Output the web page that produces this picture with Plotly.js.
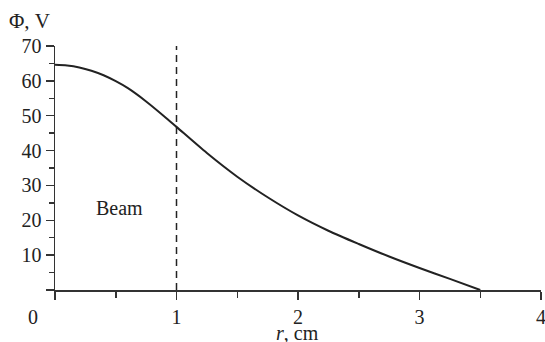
<!DOCTYPE html>
<html>
<head>
<meta charset="utf-8">
<script src="https://cdn.plot.ly/plotly-3.0.1.min.js"></script>
<style>html,body{margin:0;padding:0;background:#fff;}#chart{width:545px;height:342px;}</style>
</head>
<body>
<div id="chart"></div>
<script>
// Potential profile Φ(r)
const radius = [0, 0.1, 0.2, 0.3, 0.4, 0.5, 0.6, 0.75, 0.9, 1.0, 1.25, 1.5, 1.75, 2.0, 2.25, 2.5, 2.75, 3.0, 3.25, 3.5];
const potential = [64.6, 64.4, 63.85, 62.9, 61.6, 59.9, 57.9, 54.1, 49.8, 46.8, 39.3, 32.5, 26.6, 21.4, 17.0, 13.2, 9.6, 6.3, 3.2, 0];
const beamEdge = 1;          // beam radius, cm
const beamEdgeY = [0, 70];
const xTickVals = [0, 1, 2, 3, 4];
const xTickText = ['', '1', '2', '3', '4'];
const yTickVals = [0, 10, 20, 30, 40, 50, 60, 70];
const yTickText = ['', '10', '20', '30', '40', '50', '60', '70'];

const font = 'Liberation Serif, Times New Roman, serif';
const ink = '#222';

const traces = [
  {x: radius, y: potential, mode: 'lines', line: {color: ink, width: 2, shape: 'spline', smoothing: 0.8}, hoverinfo: 'skip'},
  {x: [beamEdge, beamEdge], y: beamEdgeY, mode: 'lines', line: {color: ink, width: 1.5, dash: '7px,5px'}, hoverinfo: 'skip'}
];

const axisCommon = {
  showline: true, linecolor: '#333', linewidth: 1.5,
  ticks: 'outside', ticklen: 8, tickwidth: 1.5, tickcolor: '#333',
  showgrid: false, zeroline: false,
  tickfont: {family: font, size: 20, color: ink},
  ticklabeloverflow: 'allow',
  tickmode: 'array'
};

const layout = {
  width: 545, height: 342,
  margin: {l: 55, r: 4, t: 46, b: 52},
  paper_bgcolor: '#fff', plot_bgcolor: '#fff',
  showlegend: false,
  xaxis: Object.assign({}, axisCommon, {
    range: [0, 4], tickvals: xTickVals, ticktext: xTickText,
    minor: {tickmode: 'array', tickvals: [0.5, 1.5, 2.5, 3.5], ticks: 'outside', ticklen: 6, tickwidth: 1.5, tickcolor: '#333'}
  }),
  yaxis: Object.assign({}, axisCommon, {
    range: [0, 70], tickvals: yTickVals, ticktext: yTickText,
    minor: {tickmode: 'array', tickvals: [5, 15, 25, 35, 45, 55, 65], ticks: 'outside', ticklen: 5, tickwidth: 1.5, tickcolor: '#333'}
  }),
  annotations: [
    {x: 0, y: 0, xref: 'x', yref: 'y', text: '0', showarrow: false, xshift: -22, yshift: -27,
     font: {family: font, size: 20, color: ink}},
    {x: 0.53, y: 23.4, xref: 'x', yref: 'y', text: 'Beam', showarrow: false,
     font: {family: font, size: 20, color: ink}},
    {xref: 'paper', yref: 'paper', x: (29 - 55) / 486, y: (290 - 21) / 244, xanchor: 'center', yanchor: 'middle',
     text: 'Φ, V', showarrow: false, font: {family: font, size: 21, color: ink}},
    {xref: 'paper', yref: 'paper', x: (297 - 55) / 486, y: (290 - 333) / 244, xanchor: 'center', yanchor: 'middle',
     text: '<i>r</i>, cm', showarrow: false, font: {family: font, size: 20, color: ink}}
  ]
};

Plotly.newPlot('chart', traces, layout, {staticPlot: true, displayModeBar: false});
</script>
</body>
</html>
